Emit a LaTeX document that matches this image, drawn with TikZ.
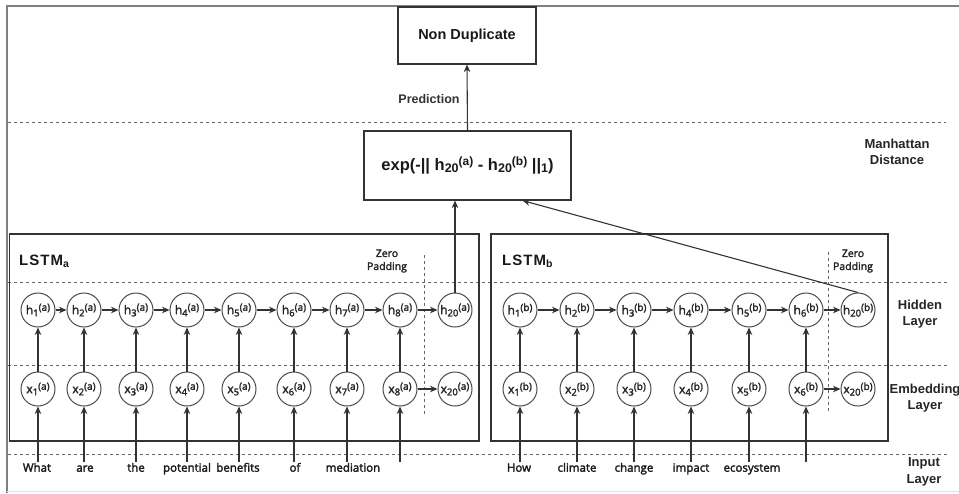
\documentclass[tikz,border=0pt]{standalone}
\usepackage{fontspec}
\setmainfont{Liberation Sans}
\newfontfamily\osans[FakeBold=2.2]{Open Sans}
\usetikzlibrary{arrows.meta,calc}
\newcommand{\clab}[3]{{\fontsize{12}{13}\selectfont #1}\raisebox{-2.2pt}{\fontsize{9.5}{10}\selectfont #2}\raisebox{3.4pt}{\fontsize{10}{11}\selectfont (#3)}}
\newcommand{\hsub}[2]{h\raisebox{-2.5pt}{\fontsize{12.5}{13}\selectfont #1}\raisebox{4.5pt}{\fontsize{12}{13}\selectfont (#2)}}
\begin{document}
\begin{tikzpicture}[x=1pt,y=-1pt,
  circ/.style={circle,draw=black!70,line width=1pt,minimum size=34pt,inner sep=0pt,font=\osans,text=black!85},
  arr/.style={draw=black!80,line width=1.1pt,-{Stealth[length=7.5pt,width=6.5pt]}},
  box/.style={draw=black!80,line width=1.1pt,inner sep=0pt},
  dline/.style={draw=black!60,line width=0.9pt,dash pattern=on 3pt off 3pt},
  word/.style={font=\osans\fontsize{11.5}{13}\selectfont,text=black!90,anchor=north,inner sep=1.5pt,text height=8pt,text depth=2pt},
  lab/.style={font=\bfseries\fontsize{13}{16.5}\selectfont,text=black!85,align=center},
  zp/.style={font=\osans\fontsize{10.5}{13}\selectfont,text=black!85,align=center},
]
\useasboundingbox (0,0) rectangle (959,493);
\fill[white] (0,0) rectangle (959,493);
% outer frame
\draw[black!50,line width=2.5pt] (7,493) -- (7,6) -- (959,6);
\draw[black!12,line width=0.8pt] (7,491.5) -- (959,491.5);

% layer separators
\draw[dline] (8,122) -- (946,122);
\draw[dline] (8,282) -- (947,282);
\draw[dline] (8,365) -- (947,365);
\draw[dline] (8,454) -- (947,454);

% top boxes
\node[box,minimum width=138pt,minimum height=57pt,font=\bfseries\fontsize{14.5}{16}\selectfont,text=black!90] (nd) at (467,35.5) {Non Duplicate};
\node[box,minimum width=207pt,minimum height=69pt,font=\bfseries\fontsize{16.5}{18}\selectfont,text=black!90] (exp) at (467.5,165.5)
  {exp(-|| \hsub{20}{a} - \hsub{20}{b} ||\raisebox{-2.5pt}{\fontsize{12.5}{13}\selectfont 1})};
\draw[arr] (exp.north) -- (nd.south);
\node[font=\bfseries\fontsize{12.5}{14}\selectfont,text=black!80] (pred) at (429,99) {Prediction};

% side labels
\node[lab] (man) at (897,152) {Manhattan\\Distance};
\node[lab] (hid) at (920,314) {Hidden\\Layer};
\node[lab] (emb) at (925,398) {Embedding\\Layer};
\node[lab] (inp) at (924,472) {Input\\Layer};

% LSTM boxes
\node[box,minimum width=469.5pt,minimum height=207pt] (lstma) at (244.25,337.5) {};
\node[box,minimum width=397pt,minimum height=207pt] (lstmb) at (689.5,337.5) {};
\node[anchor=base west,inner sep=0pt,font=\bfseries\fontsize{15}{16}\selectfont,text=black!90] (la) at (19,265) {L\kern1pt S\kern1pt T\kern1pt M\textsubscript{a}};
\node[anchor=base west,inner sep=0pt,font=\bfseries\fontsize{15}{16}\selectfont,text=black!90] (lb) at (502,265) {L\kern1pt S\kern1pt T\kern1pt M\textsubscript{b}};

% zero padding
\node[zp] (zpa) at (387,261) {Zero\\Padding};
\node[zp] (zpb) at (853,261) {Zero\\Padding};
\draw[dline] (424,255) -- (424,415);
\draw[dline] (828,252) -- (828,413);

% circles LSTM a
\foreach \i/\x/\n in {1/38/1,2/84/2,3/136/3,4/187/4,5/239/5,6/294/6,7/347/7,8/400/8,9/455/20}{
  \node[circ] (ha\i) at (\x,310) {\clab{h}{\n}{a}};
  \node[circ] (xa\i) at (\x,389) {\clab{x}{\n}{a}};
}
% circles LSTM b
\foreach \i/\x/\n in {1/520/1,2/577/2,3/634/3,4/691/4,5/749/5,6/806/6,7/858/20}{
  \node[circ] (hb\i) at (\x,310) {\clab{h}{\n}{b}};
  \node[circ] (xb\i) at (\x,389) {\clab{x}{\n}{b}};
}
% recurrent arrows
\foreach \i in {1,...,8}{\pgfmathtruncatemacro\j{\i+1}\draw[arr] (ha\i) -- (ha\j);}
\foreach \i in {1,...,6}{\pgfmathtruncatemacro\j{\i+1}\draw[arr] (hb\i) -- (hb\j);}
% embedding to hidden
\foreach \i in {1,...,8}{\draw[arr] (xa\i) -- (ha\i);}
\foreach \i in {1,...,6}{\draw[arr] (xb\i) -- (hb\i);}
\draw[arr] (xa8) -- (xa9);
\draw[arr] (xb6) -- (xb7);

% words
\foreach \i/\x/\w in {1/37/What,2/85/are,3/136/the,4/187/potential,5/238/benefits,6/295/of,7/353/mediation}{
  \node[word] (wa\i) at (\x,462) {\w};
}
\coordinate (wa8) at (400,462);
\foreach \i/\x/\w in {1/519/How,2/577/climate,3/634/change,4/691/impact,5/752/ecosystem}{
  \node[word] (wb\i) at (\x,462) {\w};
}
\coordinate (wb6) at (806,462);
\foreach \i in {1,...,8}{\draw[arr] (wa\i.north -| xa\i) -- (xa\i);}
\foreach \i in {1,...,6}{\draw[arr] (wb\i.north -| xb\i) -- (xb\i);}

% final states to distance
\draw[arr] (ha9.north) -- (ha9.north |- exp.south);
\draw[arr] (hb7.north) -- ($(exp.south east)+(-49,0)$);
\end{tikzpicture}
\end{document}
